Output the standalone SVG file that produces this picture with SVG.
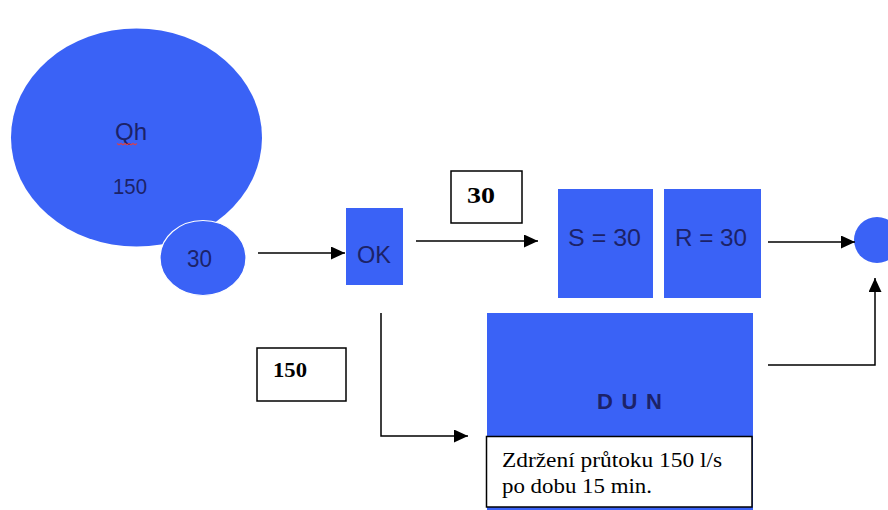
<svg xmlns="http://www.w3.org/2000/svg" width="888" height="510" viewBox="0 0 888 510">
  <style>
    .blue { fill: #3a62f6; }
    .lbl { font-family: "Liberation Sans", Arial, sans-serif; fill: #1c2268; }
    .box { fill: #ffffff; stroke: #000000; stroke-width: 1.5; }
    .num { font-family: "Liberation Serif", "Times New Roman", serif; font-weight: bold; fill: #000000; }
    .note { font-family: "Liberation Serif", "Times New Roman", serif; fill: #000000; }
    .conn { fill: none; stroke: #000000; stroke-width: 1.5; }
  </style>
  <defs>
    <marker id="arrow" markerUnits="userSpaceOnUse" markerWidth="16" markerHeight="14" refX="14" refY="6.5" orient="auto">
      <path d="M0,0 L14,6.5 L0,13 z" fill="#000000"/>
    </marker>
  </defs>
  <rect width="888" height="510" fill="#ffffff"/>

  <!-- inflow Qh -->
  <g id="qh">
    <ellipse class="blue" cx="136.5" cy="137.5" rx="125.5" ry="109"/>
    <text class="lbl" x="131" y="140" font-size="24" text-anchor="middle" textLength="32" lengthAdjust="spacingAndGlyphs">Qh</text>
    <path d="M117,143.5 l2,1.2 l2,-1.2 l2,1.2 l2,-1.2 l2,1.2 l2,-1.2 l2,1.2 l2,-1.2 l2,1.2 l2,-1.2" fill="none" stroke="#d9404a" stroke-width="1.2"/>
    <text class="lbl" x="130" y="194" font-size="22" text-anchor="middle" textLength="34" lengthAdjust="spacingAndGlyphs">150</text>
  </g>

  <!-- outflow 30 -->
  <g id="q30">
    <ellipse class="blue" cx="203" cy="258" rx="43" ry="37.5" stroke="#ffffff" stroke-width="1.2"/>
    <text class="lbl" x="199.5" y="267" font-size="23" text-anchor="middle" textLength="25" lengthAdjust="spacingAndGlyphs">30</text>
  </g>

  <!-- overflow chamber -->
  <g id="ok">
    <rect class="blue" x="346" y="208" width="57" height="77"/>
    <text class="lbl" x="374" y="263" font-size="24" text-anchor="middle" textLength="34" lengthAdjust="spacingAndGlyphs">OK</text>
  </g>

  <g id="label30">
    <rect class="box" x="451" y="171" width="71" height="52"/>
    <text class="num" x="481" y="203" font-size="23" text-anchor="middle" textLength="28" lengthAdjust="spacingAndGlyphs">30</text>
  </g>

  <g id="label150">
    <rect class="box" x="257" y="348" width="89" height="53"/>
    <text class="num" x="290" y="377" font-size="22" text-anchor="middle" textLength="34" lengthAdjust="spacingAndGlyphs">150</text>
  </g>

  <g id="s30">
    <rect class="blue" x="558" y="189" width="95" height="109"/>
    <text class="lbl" x="604.5" y="246" font-size="24" text-anchor="middle" textLength="73" lengthAdjust="spacingAndGlyphs">S = 30</text>
  </g>

  <g id="r30">
    <rect class="blue" x="664" y="189" width="97" height="109"/>
    <text class="lbl" x="711" y="246" font-size="24" text-anchor="middle" textLength="72" lengthAdjust="spacingAndGlyphs">R = 30</text>
  </g>

  <!-- retention tank -->
  <g id="dun">
    <rect class="blue" x="487" y="313" width="266" height="197"/>
    <text class="lbl" x="629.5" y="409" font-size="22" font-weight="bold" fill="#10183a" text-anchor="middle" textLength="65" lengthAdjust="spacing">D U N</text>
    <rect class="box" x="486.5" y="436.5" width="265.5" height="70.5"/>
    <text class="note" x="502" y="467" font-size="22" textLength="220" lengthAdjust="spacingAndGlyphs">Zdržení průtoku 150 l/s</text>
    <text class="note" x="502" y="493" font-size="22" textLength="150" lengthAdjust="spacingAndGlyphs">po dobu 15 min.</text>
  </g>

  <!-- receiving stream -->
  <g id="outlet">
    <circle class="blue" cx="877" cy="240" r="23"/>
  </g>

  <g id="connectors">
    <path class="conn" d="M258,253 H345" marker-end="url(#arrow)"/>
    <path class="conn" d="M416,241 H538" marker-end="url(#arrow)"/>
    <path class="conn" d="M768,242 H855" marker-end="url(#arrow)"/>
    <path class="conn" d="M381,313 V436 H468" marker-end="url(#arrow)"/>
    <path class="conn" d="M768,365 H875 V278" marker-end="url(#arrow)"/>
  </g>
</svg>
